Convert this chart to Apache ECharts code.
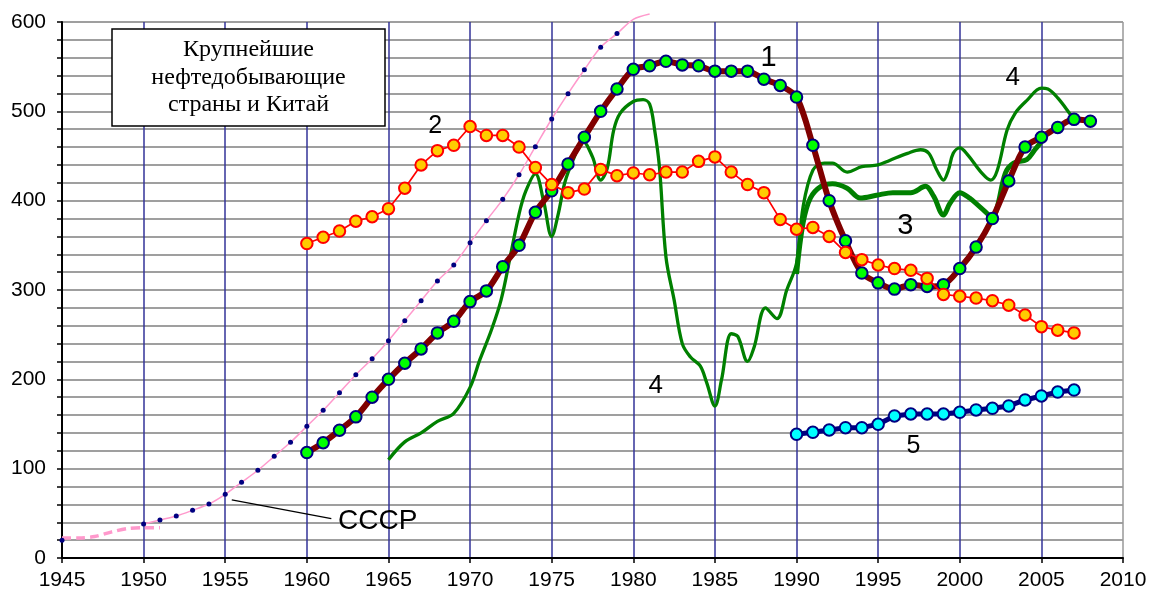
<!DOCTYPE html>
<html><head><meta charset="utf-8">
<script src="https://cdn.jsdelivr.net/npm/echarts@6/dist/echarts.min.js"></script>
<style>html,body{margin:0;padding:0;background:#fff}#c{width:1150px;height:594px}</style>
</head><body><div id="c"></div>
<script>
// ---- axis ticks ----
const xMin = 1945, xMax = 2010, xStep = 5;
const yMin = 0, yMax = 600, yStep = 20, yLabelStep = 100;

// ---- series 1 (Russia / RSFSR), 1960..2008 ----
const s1Start = 1960;
const s1 = [118,129,143,158,180,200,218,234,252,265,
            287,299,326,350,387,411,441,471,500,525,
            547,551,556,552,551,545,545,545,536,529,
            516,462,400,355,319,308,301,306,304,306,
            324,348,380,422,460,471,482,491,489];

// ---- series 2 (USA), 1960..2007 ----
const s2Start = 1960;
const s2 = [352,359,366,377,382,391,414,440,456,462,
            483,473,473,460,437,418,409,413,435,428,
            431,429,432,432,444,449,432,418,409,379,
            368,370,360,342,334,328,324,322,313,295,
            293,291,288,283,272,259,255,252];

// ---- series 5 (China), 1990..2007 ----
const s5Start = 1990;
const s5 = [138.5,140.7,143.3,145.9,145.9,149.7,159,161.2,161.2,161.2,
            163.1,165.7,167.6,170.2,176.9,181.4,185.8,188];

// ---- USSR (thin pink with dots) ----
const ussrYears = [1945,1946,1950,1951,1952,1953,1954,1955,1956,1957,1958,1959,
                   1960,1961,1962,1963,1964,1965,1966,1967,1968,1969,
                   1970,1971,1972,1973,1974,1975,1976,1977,1978,1979,1980,1981];
const ussr = [20,'-',38,42.5,47,53.4,60.4,71.3,84.7,98.2,113.8,129.5,
              147.4,165.3,185,205.2,223.1,243.3,265.7,288,310,328,
              353,377.6,401.5,429,460.4,491.4,519.8,546.6,571.7,587,603,609];
const ussrNoMarkFrom = 1980;

// ---- USSR early estimate (dashed pink) ----
const ussrEarlyYears = [1945,1946,1947,1948,1949,1950,1951];
const ussrEarly = [22.5,22.5,24,29,33,34,34];

// ---- series 4 (green thin) ----
const g4x = [1965,1966,1967,1968,1969,1970,1970.6,1971.3,1971.9,1972.5,1973,1973.4,1974,1974.5,1975,1975.4,1975.8,1976.3,1976.9,1977.5,1978,1978.4,1978.8,1979.2,1980,1980.6,1981,1981.3,1981.6,1982,1982.5,1983,1983.5,1984.1,1984.5,1985,1985.4,1986,1986.4,1987,1987.4,1988.1,1988.8,1989.4,1990,1990.4,1991,1991.7,1992.2,1993.1,1994,1995,1995.7,1996.8,1997.6,1998.1,1998.6,1999,1999.3,1999.6,2000,2000.5,2001.3,2001.9,2002.3,2002.9,2003.4,2004.1,2005,2005.4,2006,2006.8,2007];
const g4y = [110,130,140,153,162,191,222,255,289,341,385,410,430,400,360,385,420,445,467,449,423,436,479,498,511,513,508,480,438,337,289,240,225,215,196,170,199,251,248,220,236,280,268,300,330,393,434,442,442,432,438,440,445,453,457,453,434,423,434,453,459,451,432,423,434,479,498,512,526,525,515,496,491];

// ---- series 3 (green thick) ----
const g3x = [1990,1990.4,1990.85,1991.5,1992.2,1993.1,1993.9,1994.9,1995.9,1997,1997.9,1998.4,1999,1999.4,2000,2000.6,2001.3,2002,2002.3,2002.8,2003.3,2004.1,2004.6,2005];
const g3y = [318,375,403,416,419,414,403,406,409,409,416,405,384,397,409,403,392,382,393,431,442,446,457,466];

// ---- text labels (data coords) ----
const labels = [
  {t:'1', x:1988.28, y:560, size:29},
  {t:'2', x:1967.87, y:483, size:25},
  {t:'3', x:1996.67, y:372, size:29},
  {t:'4', x:1981.38, y:192.5, size:26},
  {t:'4', x:2003.25, y:537, size:26},
  {t:'5', x:1997.16, y:125.6, size:25}
];
const ussrLabel = {t:'СССР', x:1961.91, y:40.6, size:28};
const leader = [[1955.4,65],[1961.5,44]];
const titleLines = ['Крупнейшие','нефтедобывающие','страны и Китай'];

const pairs = (start, arr) => arr.map((v,i)=>[start+i, v]);
const zip = (xs, ys) => xs.map((x,i)=>[x, ys[i]]);

const chart = echarts.init(document.getElementById('c'), null, {renderer:'canvas'});
const font = '"Liberation Sans", Arial, sans-serif';

const xSplitColors = [];
for (let v = xMin; v <= xMax; v += xStep) xSplitColors.push(v === xMin ? '#000' : (v === xMax ? '#999' : '#333399'));

chart.setOption({
  animation: false,
  backgroundColor: '#fff',
  grid: {left: 62, right: 27, top: 22, bottom: 36, containLabel: false},
  xAxis: {
    type: 'value', min: xMin, max: xMax, interval: xStep, z: 1,
    axisLine: {show: true, onZero: false, lineStyle: {color: '#000', width: 2}},
    axisTick: {show: true, length: 5, lineStyle: {color: '#000', width: 1.5}},
    axisLabel: {color: '#000', fontFamily: font, fontSize: 21, margin: 12, formatter: v => String(v)},
    splitLine: {show: true, lineStyle: {color: xSplitColors, width: 1.5}}
  },
  yAxis: {
    type: 'value', min: yMin, max: yMax, interval: yStep, z: 0,
    axisLine: {show: true, onZero: false, lineStyle: {color: '#000', width: 2}},
    axisTick: {show: true, length: 5, lineStyle: {color: '#000', width: 1.5}},
    axisLabel: {color: '#000', fontFamily: font, fontSize: 21, margin: 16,
      formatter: v => (v % yLabelStep === 0 ? String(v) : '')},
    splitLine: {show: true, lineStyle: {color: '#9f9f9f', width: 2}}
  },
  series: [
    {type:'line', name:'4', data: zip(g4x, g4y), smooth: 0.35, showSymbol:false, symbol:'none',
      lineStyle:{color:'#008000', width:3.3}, z:2},
    {type:'line', name:'3', data: zip(g3x, g3y), smooth: 0.35, showSymbol:false, symbol:'none',
      lineStyle:{color:'#008000', width:5}, z:2},
    {type:'line', name:'ussrEarly', data: zip(ussrEarlyYears, ussrEarly), smooth: 0.3, symbol:'none',
      lineStyle:{color:'#FF99CC', width:3.5, type:[9,5]}, z:3},
    {type:'line', name:'ussr', clip:false, connectNulls:false,
      data: zip(ussrYears, ussr).map(p => p[0] >= ussrNoMarkFrom ? {value:p, symbol:'none'} : {value:p}),
      smooth: 0.3, symbol:'circle', symbolSize:5, showAllSymbol:true,
      itemStyle:{color:'#000080', borderWidth:0},
      lineStyle:{color:'#FF99CC', width:1.5}, z:3},
    {type:'line', name:'1', data: pairs(s1Start, s1), smooth: 0.3, symbol:'circle', symbolSize:11.5, showAllSymbol:true,
      itemStyle:{color:'#00FF00', borderColor:'#000080', borderWidth:2},
      lineStyle:{color:'#800000', width:6}, z:4},
    {type:'line', name:'2', data: pairs(s2Start, s2), symbol:'circle', symbolSize:11.5, showAllSymbol:true,
      itemStyle:{color:'#FFCC00', borderColor:'#FF0000', borderWidth:2},
      lineStyle:{color:'#FF0000', width:1.7}, z:5},
    {type:'line', name:'5', data: pairs(s5Start, s5), symbol:'circle', symbolSize:11.5, showAllSymbol:true,
      itemStyle:{color:'#00FFFF', borderColor:'#000080', borderWidth:2},
      lineStyle:{color:'#000080', width:5}, z:5}
  ]
});

const px = p => chart.convertToPixel({gridIndex:0}, p);
const graphics = [];
labels.forEach(l => {
  const p = px([l.x, l.y]);
  graphics.push({type:'text', x:p[0], y:p[1], z:100,
    style:{text:l.t, font: l.size+'px '+font, fill:'#000', textAlign:'center', textVerticalAlign:'middle'}});
});
const a = px(leader[0]), b = px(leader[1]);
graphics.push({type:'line', z:100, shape:{x1:a[0], y1:a[1], x2:b[0], y2:b[1]}, style:{stroke:'#000', lineWidth:1.3}});
const up = px([ussrLabel.x, ussrLabel.y]);
graphics.push({type:'text', x:up[0], y:up[1], z:100,
  style:{text:ussrLabel.t, font: ussrLabel.size+'px '+font, fill:'#000', textAlign:'left', textVerticalAlign:'middle'}});
// title box
graphics.push({type:'rect', z:100, shape:{x:112, y:29, width:273, height:97},
  style:{fill:'#fff', stroke:'#000', lineWidth:1.5}});
graphics.push({type:'text', z:101, x:248.5, y:77.5,
  style:{text:titleLines.join('\n'), font:'24px "Liberation Serif", "Times New Roman", serif', fill:'#000',
    textAlign:'center', textVerticalAlign:'middle', lineHeight:27.5}});
chart.setOption({graphic: graphics});
</script></body></html>
